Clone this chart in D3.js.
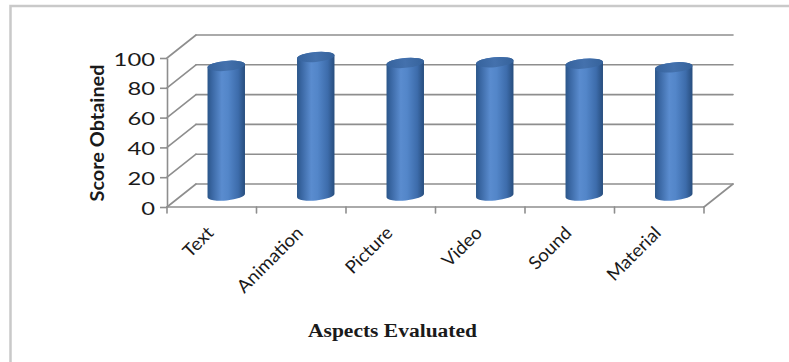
<!DOCTYPE html>
<html>
<head>
<meta charset="utf-8">
<script src="https://cdn.jsdelivr.net/npm/d3@7"></script>
<style>
  html, body { margin: 0; padding: 0; background: #fff; }
  svg { display: block; }
</style>
</head>
<body>
<svg id="chart" width="789" height="362"></svg>
<script>
// Scores per evaluated aspect
const categories = ["Text", "Animation", "Picture", "Video", "Sound", "Material"];
const scores = [87, 93, 89, 89.5, 88.5, 86];
const yTicks = [0, 20, 40, 60, 80, 100];
const xTitle = "Aspects Evaluated";
const yTitle = "Score Obtained";

const svg = d3.select("#chart");
const W = 789, H = 362;
const sansFont = "Lato, 'Open Sans', 'Noto Sans', sans-serif";

// Outer frame
svg.append("rect")
  .attr("x", 10.5).attr("y", 6)
  .attr("width", W + 10).attr("height", H + 10)
  .attr("fill", "none")
  .attr("stroke", "#c9c9c9")
  .attr("stroke-width", 2.5);

// Front plane of the 3D box and the depth offset to the back wall
const plot = { left: 167, right: 704, bottom: 207, top: 58 };
const depth = { dx: 29, dy: -23 };

const x = d3.scaleBand().domain(categories).range([plot.left, plot.right]).padding(0);
const y = d3.scaleLinear().domain([0, 100]).range([plot.bottom, plot.top]);

const gridColor = "#8e8e8e";
const grid = svg.append("g")
  .attr("fill", "none")
  .attr("stroke", gridColor)
  .attr("stroke-width", 1.6)
  .attr("stroke-linecap", "round");

// Back-wall gridlines
grid.selectAll("line.back")
  .data(yTicks)
  .join("line")
  .attr("class", "back")
  .attr("x1", plot.left + depth.dx)
  .attr("x2", plot.right + depth.dx)
  .attr("y1", d => y(d) + depth.dy)
  .attr("y2", d => y(d) + depth.dy);

// Side-wall gridlines running from the front axis to the back wall
grid.selectAll("line.side")
  .data(yTicks)
  .join("line")
  .attr("class", "side")
  .attr("x1", plot.left)
  .attr("y1", d => y(d))
  .attr("x2", plot.left + depth.dx)
  .attr("y2", d => y(d) + depth.dy);

// Floor: front edge and right edge
grid.append("line")
  .attr("x1", plot.left).attr("x2", plot.right)
  .attr("y1", y(0)).attr("y2", y(0));
grid.append("line")
  .attr("x1", plot.right).attr("y1", y(0))
  .attr("x2", plot.right + depth.dx).attr("y2", y(0) + depth.dy);

// Category tick marks along the floor's front edge
const boundaries = categories.map(c => x(c)).concat([plot.right]);
grid.selectAll("line.xtick")
  .data(boundaries)
  .join("line")
  .attr("class", "xtick")
  .attr("x1", d => d).attr("x2", d => d)
  .attr("y1", y(0)).attr("y2", y(0) + 6);

// Value axis on the front-left edge
const yAxis = d3.axisLeft(y)
  .tickValues(yTicks)
  .tickSize(7)
  .tickSizeOuter(0)
  .tickPadding(5);

const yAxisG = svg.append("g")
  .attr("transform", `translate(${plot.left},0)`)
  .call(yAxis);

yAxisG.select(".domain")
  .attr("stroke", gridColor)
  .attr("stroke-width", 1.6);
yAxisG.selectAll(".tick line")
  .attr("stroke", gridColor)
  .attr("stroke-width", 1.6);
yAxisG.selectAll(".tick text")
  .attr("font-family", sansFont)
  .attr("font-size", 17)
  .attr("fill", "#1a1a1a")
  .attr("dy", "0.42em")
  .attr("textLength", d => String(d).length * 13.8)
  .attr("lengthAdjust", "spacingAndGlyphs");

// Cylinder shading
const defs = svg.append("defs");
const bodyGrad = defs.append("linearGradient")
  .attr("id", "cylBody")
  .attr("x1", "0%").attr("x2", "100%").attr("y1", "0%").attr("y2", "0%");
[
  [0, "#2b5689"], [0.12, "#3a67a3"], [0.38, "#5a8ccf"], [0.55, "#5386c9"],
  [0.82, "#3d6cab"], [1, "#274d7d"]
].forEach(([o, c]) => bodyGrad.append("stop").attr("offset", o).attr("stop-color", c));

const capGrad = defs.append("linearGradient")
  .attr("id", "cylCap")
  .attr("x1", "0%").attr("x2", "100%").attr("y1", "0%").attr("y2", "0%");
[[0, "#36639d"], [0.5, "#4471ad"], [1, "#35629b"]]
  .forEach(([o, c]) => capGrad.append("stop").attr("offset", o).attr("stop-color", c));

const rx = x.bandwidth() * 0.21;
const ry = 5;
const tilt = -5;                      // degrees, ellipse rotation
const t = tilt * Math.PI / 180;
const ex = rx * Math.cos(t), ey = rx * Math.sin(t);

const bars = svg.append("g")
  .selectAll("g.bar")
  .data(categories.map((c, i) => ({ c, v: scores[i] })))
  .join("g")
  .attr("class", "bar");

const cxOf = d => x(d.c) + x.bandwidth() / 2 + depth.dx / 2;
const baseY = y(0) + depth.dy / 2;
const topY = d => y(d.v) + depth.dy / 2;

bars.append("path")
  .attr("fill", "url(#cylBody)")
  .attr("d", d => {
    const cx = cxOf(d), ty = topY(d);
    return `M${cx - ex},${ty - ey}` +
      `L${cx - ex},${baseY - ey}` +
      `A${rx},${ry} ${tilt} 0 0 ${cx + ex},${baseY + ey}` +
      `L${cx + ex},${ty + ey}` +
      `A${rx},${ry} ${tilt} 0 0 ${cx - ex},${ty - ey}Z`;
  });

bars.append("ellipse")
  .attr("fill", "url(#cylCap)")
  .attr("cx", 0).attr("cy", 0)
  .attr("rx", rx).attr("ry", ry)
  .attr("transform", d => `translate(${cxOf(d)},${topY(d)}) rotate(${tilt})`);

// Category labels
svg.append("g")
  .selectAll("text")
  .data(categories)
  .join("text")
  .attr("font-family", sansFont)
  .attr("font-size", 18)
  .attr("fill", "#1a1a1a")
  .attr("text-anchor", "end")
  .attr("transform", c => `translate(${x(c) + x.bandwidth() / 2 + 3},${y(0) + 27}) rotate(-45) scale(1.04,1)`)
  .text(c => c);

// Axis titles
svg.append("text")
  .attr("font-family", sansFont)
  .attr("font-weight", "bold")
  .attr("font-size", 18)
  .attr("fill", "#1a1a1a")
  .attr("text-anchor", "middle")
  .attr("transform", `translate(104,133) rotate(-90)`)
  .attr("textLength", 137)
  .attr("lengthAdjust", "spacingAndGlyphs")
  .text(yTitle);

svg.append("text")
  .attr("font-family", "'Liberation Serif', 'Times New Roman', serif")
  .attr("font-weight", "bold")
  .attr("font-size", 18)
  .attr("fill", "#1a1a1a")
  .attr("text-anchor", "middle")
  .attr("x", 392.5)
  .attr("y", 337)
  .attr("textLength", 169)
  .attr("lengthAdjust", "spacingAndGlyphs")
  .text(xTitle);
</script>
</body>
</html>
